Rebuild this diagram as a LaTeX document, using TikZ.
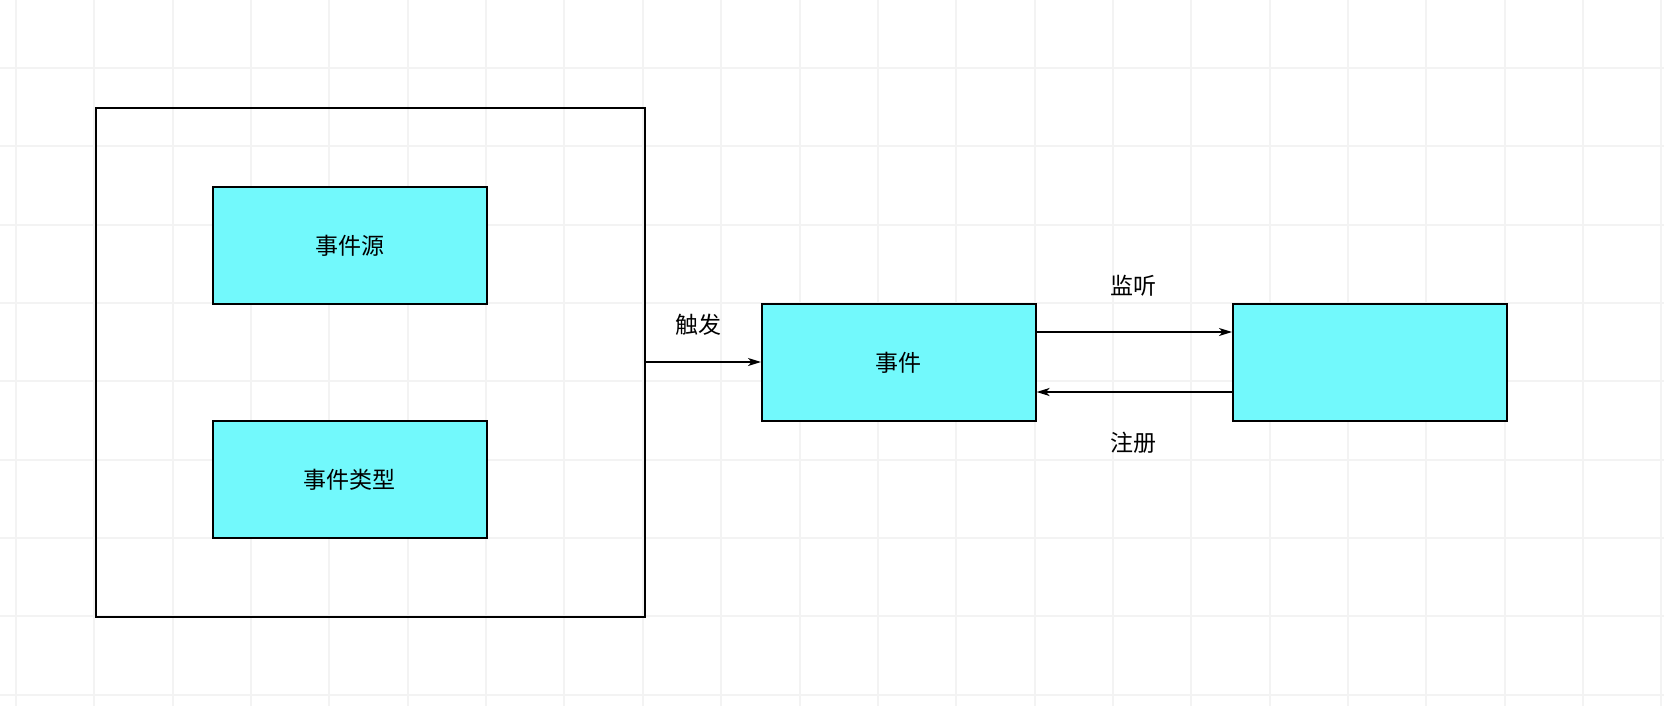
\documentclass[tikz,border=0pt]{standalone}
\usepackage{fontspec}
\setmainfont{Noto Sans CJK SC}
\usetikzlibrary{arrows.meta}
\definecolor{boxcyan}{HTML}{72F9FC}
\definecolor{gridgray}{HTML}{F3F3F3}
\tikzset{
  cbox/.style={draw=black, line width=1.6pt, fill=boxcyan, minimum width=274pt, minimum height=117pt, inner sep=0pt, anchor=north west, font=\fontsize{23}{26}\selectfont},
  frame/.style={draw=black, line width=1.6pt, minimum width=549pt, minimum height=509pt, inner sep=0pt, anchor=north west},
  conn/.style={line width=1.6pt, -{Stealth[length=13pt,width=8pt,inset=3.5pt]}},
  lbl/.style={font=\fontsize{23}{26}\selectfont, inner sep=0pt},
  gridline/.style={draw=gridgray, line width=2pt}
}
\begin{document}
\begin{tikzpicture}[x=1pt,y=-1pt]
\useasboundingbox (0,0) rectangle (1664,706);
\fill[white] (0,0) rectangle (1664,706);
% grid
\foreach \i in {0,...,21} {
  \draw[gridline] ({16+78.35*\i},0) -- ({16+78.35*\i},706);
}
\foreach \j in {0,...,8} {
  \draw[gridline] (0,{68+78.35*\j}) -- (1664,{68+78.35*\j});
}
% outer frame
\node[frame] (outer) at (95,107) {};
\node[cbox] (src) at (212,186) {事件源};
\node[cbox] (type) at (212,420) {事件类型};
\node[cbox] (evt) at (761,303) {事件};
\node[cbox] (lis) at (1232,303) {};
% connectors
\coordinate (oa) at (outer.east |- 0,362);
\coordinate (ea) at (evt.west |- 0,362);
\draw[conn] (oa) -- (ea);
\node[lbl] (l1) at (698,325) {触发};
\coordinate (e1) at (evt.east |- 0,332);
\coordinate (r1) at (lis.west |- 0,332);
\draw[conn] (e1) -- (r1);
\node[lbl] (l2) at (1133,286) {监听};
\coordinate (e2) at (evt.east |- 0,392);
\coordinate (r2) at (lis.west |- 0,392);
\draw[conn] (r2) -- (e2);
\node[lbl] (l3) at (1133,443) {注册};
\end{tikzpicture}
\end{document}
